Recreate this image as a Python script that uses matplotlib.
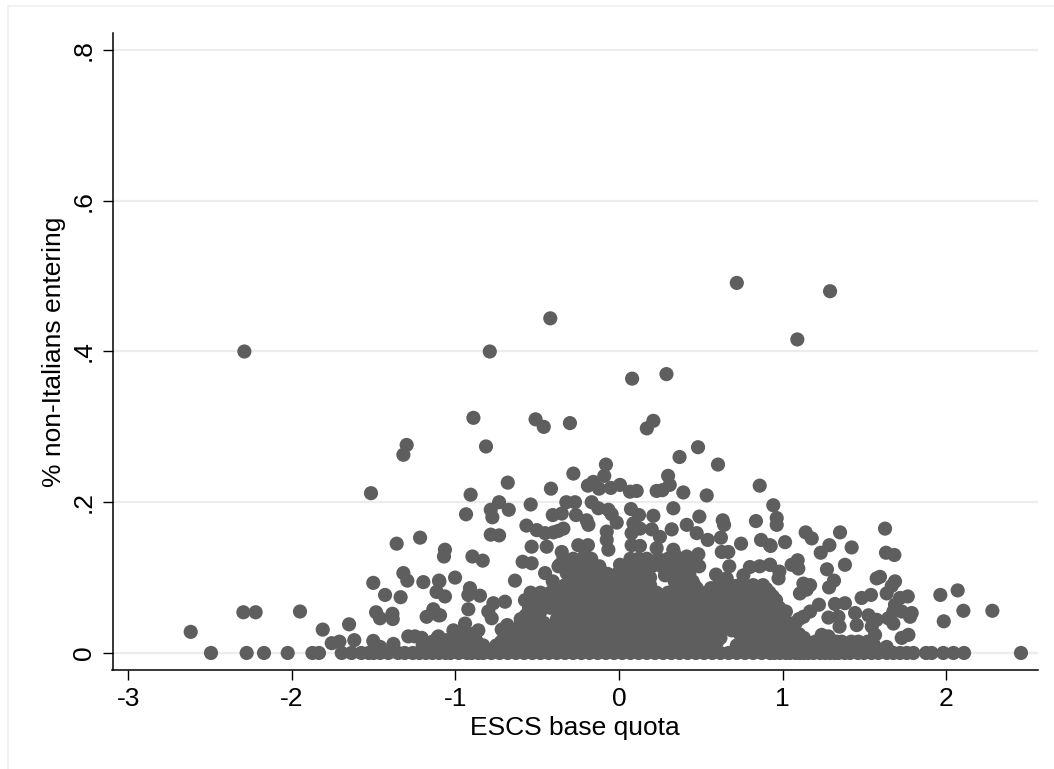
import numpy as np
import matplotlib
matplotlib.use('Agg')
import matplotlib.pyplot as plt
from matplotlib.lines import Line2D

plt.rcParams['font.family'] = ['Liberation Sans', 'DejaVu Sans']

# points sitting on zero
zero_x = [-2.494,-2.276,-2.17,-2.025,-1.874,-1.834,-1.695,-1.635,-1.575,-1.53,-1.5,-1.46,-1.41,-1.35,-1.31,-1.26,-1.22,-1.18,-1.14,-1.1,-1.06,
          -1.03,-.98,-.93,-.9,-.86,-.83,-.78,-.73,-.68,-.63,-.58,-.53,-.48,-.43,-.38,-.33,-.28,-.23,-.18,-.13,-.08,-.03,.02,.07,.12,
          .17,.22,.27,.32,.37,.42,.47,.52,.57,.62,.67,.72,.77,.82,.872,.923,.95,.984,1.02,1.045,1.08,1.106,1.13,1.157,1.19,1.229,1.26,1.29,1.32,1.341,1.38,1.412,
          1.46,1.497,1.544,1.585,1.637,1.677,1.718,1.759,1.799,1.877,1.911,1.982,2.044,2.109,2.457]

# scattered points above the dense part
scatter_x = [-2.29,.72,1.29,-.42,1.09,-.79,.08,.29,-.89,-.51,-.46,-.30,.21,.17,-1.298,-1.318,-.813,.37,.483,.605,
             -.907,-.68,-.935,-.733,-.784,-.774,-.674,-.54,-.416,-.279,-.08,-.09,-.19,-.157,-.122,-.05,.006,.067,.108,.23,
             .265,.30,.31,.393,.536,.86,.491,.332,.21,.073,.122,-.322,-.269,-.35,-.405,-.167,-.126,-.065,-.045,-.014,
             -.263,-.198,-.187,-.566,-.503,-.452,-.401,-.371,-.34,-.784,-.733,-1.064,-1.07,-.896,-.833,-.534,-.442,-.35,
             -.249,-.19,-.208,-.075,-.075,-.065,.088,.077,.128,.2,.25,.322,.077,.128,.23,.332,.414,.475,.542,.634,.642,.623,
             .485,.414,.342,.628,.668,.746,.837,.868,.923,.943,.964,.964,.674,.8,.86,.923,.76,.593,.658,.719,.475,.562,.383,
             .281,.424,.088,.006,.149,-.361,-.589,-.534,-.452,-.405,-.208,-.32,-.636,-1.002,-1.1,-1.115,-1.064,-.911,-.921,
             -.85,-.921,-.697,-.768,-.799,-.778,-.575,-.503,-.601,-.683,-.717,-.605,-.86,-.941,-1.012,-1.104,-1.135,-1.094,
             -.707,-2.618,-2.296,-2.221,-1.95,-1.811,-1.65,-1.756,-1.709,-1.618,-1.502,-1.46,-1.379,-1.516,-1.216,-1.359,
             -1.502,-1.318,-1.294,-1.196,-1.098,-1.43,-1.335,-1.485,-1.461,-1.385,-1.383,-1.176,-1.135,-1.104,-1.288,-1.247,
             -1.206,-1.11,-1.053,1.626,2.282,2.105,2.07,1.964,1.985,1.632,1.683,1.595,1.575,1.687,1.667,1.636,1.54,1.483,1.765,
             1.718,1.687,1.677,1.789,1.779,1.728,1.677,1.646,1.769,1.728,1.636,1.351,1.422,1.286,1.233,1.381,1.271,1.314,
             1.284,1.141,1.178,1.015,.927,1.092,1.055,1.096,.98,.975,.923,1.168,1.127,1.147,1.106,1.222,1.168,1.127,1.055,
             1.32,1.381,1.28,1.341,1.443,1.525,1.575,1.453,1.348,1.239,1.28,1.545,1.565,1.463,1.361,1.167,.943,.984,.892,.964,
             1.065,1.005,.902]
scatter_y = [.40,.491,.48,.444,.416,.40,.364,.37,.312,.31,.30,.305,.308,.298,.276,.263,.274,.26,.273,.25,
             .21,.226,.184,.2,.19,.18,.19,.197,.218,.238,.25,.235,.222,.227,.218,.219,.223,.214,.215,.215,
             .216,.235,.223,.213,.209,.222,.181,.192,.182,.191,.183,.2,.2,.185,.183,.2,.192,.19,.184,.173,
             .183,.176,.17,.169,.163,.159,.16,.162,.165,.157,.156,.137,.128,.128,.1225,.141,.141,.134,
             .143,.143,.13,.161,.15,.137,.172,.159,.165,.164,.154,.164,.143,.142,.139,.137,.17,.159,.15,.176,.17,.153,
             .131,.128,.13,.134,.134,.145,.175,.15,.143,.196,.179,.17,.115,.114,.115,.117,.103,.104,.099,.089,.086,.086,.066,
             .103,.106,.121,.117,.119,.117,.121,.119,.106,.095,.117,.106,.096,.1,.096,.081,.075,.086,.077,
             .076,.058,.068,.066,.055,.046,.07,.077,.045,.037,.031,.028,.03,.039,.03,.022,.053,.05,
             .017,.028,.054,.054,.055,.031,.038,.013,.015,.017,.016,.008,.012,.212,.153,.145,
             .093,.106,.096,.094,.095,.077,.074,.054,.046,.052,.045,.048,.058,.05,.022,.022,
             .02,.02,.017,.165,.056,.056,.083,.077,.042,.133,.13,.101,.099,.095,.089,.079,.077,.073,.075,
             .073,.064,.055,.053,.048,.055,.039,.046,.024,.02,.008,.16,.14,.143,.133,.117,.111,.096,
             .087,.16,.152,.147,.142,.123,.117,.112,.108,.099,.117,.09,.092,.084,.079,.064,.055,.048,.039,
             .065,.066,.047,.048,.053,.05,.044,.037,.035,.024,.022,.035,.024,.015,.015,.013,.048,.05,.061,.035,
             .022,.017,.022]

# dense part, x values read row by row
core_125 = [-.34,-.28,-.22,-.17,.07,.12,.17,.24,.3,.36,.41,.46]
core_115 = [-.37,-.3,-.24,-.18,-.12,.02,.08,.14,.2,.26,.32,.38,.44,.49]
core_105 = [-.3,-.25,-.19,-.13,-.07,-.01,.05,.11,.17,.33,.38,.43]
core_100 = [-.28,-.22,-.16,-.1,-.04,.02,.08,.14,.19,.36,.41]
core_095 = [-.3,-.22,-.15,-.08,-.02,.04,.11,.17,.34,.45]
core_090 = [-.33,-.26,-.19,-.12,-.05,.01,.07,.14,.19,.38,.46,.61,.68,.76,.82,.88]
core_085 = [-.36,-.28,-.21,-.14,-.07,0,.06,.13,.19,.36,.43,.62,.7,.78,.84,.9]
core_080 = [-.54,-.48,-.42,-.38,-.31,-.24,-.17,-.1,-.03,.04,.1,.17,.23,.3,.37,.44,.5,.57,.65,.73,.8,.86,.92]
core_075 = [-.47,-.4,-.33,-.26,-.19,-.12,-.05,.01,.08,.15,.22,.28,.34,.42,.5,.56,.63,.7,.77,.83,.88,.94]
core_070 = [-.56,-.5,-.44,-.35,-.28,-.21,-.14,-.07,-.01,.06,.13,.2,.26,.33,.4,.47,.53,.6,.66,.72,.79,.85,.91,.96]
core_065 = [-.52,-.46,-.37,-.3,-.23,-.16,-.09,-.02,.05,.12,.18,.25,.31,.4,.47,.54,.6,.67,.74,.82,.88,.95]
core_060 = [-.55,-.49,-.42,-.34,-.27,-.2,-.13,-.06,.01,.07,.14,.21,.28,.34,.41,.48,.55,.61,.68,.75,.81,.87,.93,.98]
core_055 = [-.54,-.48,-.36,-.3,-.24,-.18,-.11,-.04,.03,.09,.16,.23,.3,.36,.43,.5,.57,.62,.71,.78,.84,.9,.97,1.02]
core_050 = [-.57,-.52,-.34,-.27,-.21,-.14,-.07,0,.06,.13,.2,.26,.33,.4,.47,.53,.6,.66,.73,.8,.86,.93,1.0]
core_045 = [-.56,-.5,-.38,-.31,-.25,-.19,-.12,-.05,.02,.08,.15,.22,.29,.35,.42,.49,.56,.63,.69,.74,.8,.86,.92,.98,1.1]
core_040 = [-.6,-.53,-.46,-.38,-.29,-.22,-.15,-.08,-.01,.05,.12,.19,.26,.32,.39,.46,.53,.6,.66,.72,.78,.84,.9,.96,1.02,1.08]
core_035 = [-.54,-.47,-.4,-.33,-.26,-.19,-.12,-.05,.02,.09,.16,.23,.3,.37,.44,.51,.58,.65,.72,.78,.84,.9,.96,1.03]
core_030 = [-.62,-.57,-.5,-.43,-.36,-.29,-.22,-.15,-.08,-.01,.06,.13,.2,.27,.34,.41,.48,.55,.62,.69,.75,.81,.87,.93,.99,1.06]
core_025 = [-.97,-.9,-.67,-.6,-.53,-.46,-.39,-.32,-.25,-.18,-.11,-.04,.03,.1,.17,.24,.31,.38,.45,.52,.59,.74,.8,.86,.92,.98,1.04,1.1]
core_020 = [-1.0,-.94,-.88,-.7,-.63,-.56,-.49,-.42,-.35,-.28,-.21,-.14,-.07,0,.07,.14,.21,.28,.35,.42,.49,.56,.62,.77,.83,.89,.95,1.01,1.07,1.13]
core_015 = [-1.14,-1.07,-1.0,-.93,-.87,-.72,-.65,-.58,-.51,-.44,-.37,-.3,-.23,-.16,-.09,-.02,.05,.12,.19,.26,.33,.4,.47,.54,.6,.75,.82,.89,.96,1.03,1.09,1.2,1.27,1.33,1.42,1.52]
core_010 = [-1.2,-1.12,-1.04,-.96,-.89,-.83,-.75,-.68,-.61,-.54,-.47,-.4,-.33,-.26,-.19,-.12,-.05,.02,.09,.16,.23,.3,.37,.44,.51,.58,.72,.79,.86,.93,1.0,1.07,1.14,1.22,1.3,1.38,1.48,1.56]
core_levels = [.125,.115,.105,.1,.095,.09,.085,.08,.075,.07,.065,.06,.055,.05,.045,.04,.035,.03,.025,.02,.015,.01]
core_rows = [core_125,core_115,core_105,core_100,core_095,core_090,core_085,core_080,core_075,core_070,core_065,
             core_060,core_055,core_050,core_045,core_040,core_035,core_030,core_025,core_020,core_015,core_010]

x_ticks = [-3,-2,-1,0,1,2]
x_labels = ['-3','-2','-1','0','1','2']
y_ticks = [0,.2,.4,.6,.8]
y_labels = ['0','.2','.4','.6','.8']

W, H = 1054, 769
fig = plt.figure(figsize=(W/100, H/100), dpi=100, facecolor='white')
ax = fig.add_axes([112.5/W, 1-670/H, (1038-112.5)/W, (670-33)/H])

core_x = np.concatenate(core_rows)
core_y = np.concatenate([[lv]*len(r) for lv, r in zip(core_levels, core_rows)])
all_x = np.concatenate([zero_x, scatter_x, core_x])
all_y = np.concatenate([np.zeros(len(zero_x)), scatter_y, core_y])

ax.scatter(all_x, all_y, s=104, c='#5e5e5e', edgecolors='none', zorder=3, clip_on=False)

ax.set_xlim(-3.096, 2.561)
ax.set_ylim(-0.0226, 0.8226)
ax.set_xticks(x_ticks)
ax.set_xticklabels(x_labels)
ax.set_yticks(y_ticks)
ax.set_yticklabels(y_labels, rotation=90, va='center')
ax.grid(axis='y', color='#ececec', lw=1.6, zorder=0)
ax.set_axisbelow(True)
ax.spines['top'].set_visible(False)
ax.spines['right'].set_visible(False)
ax.spines['left'].set_linewidth(1.1)
ax.spines['bottom'].set_linewidth(1.1)
ax.tick_params(length=7.5, width=1.0, labelsize=19, pad=4.5)
ax.set_xlabel('ESCS base quota', fontsize=19, labelpad=3.5)
ax.set_ylabel('% non-Italians entering', fontsize=19, labelpad=4.5)

# faint outer frame
fig.add_artist(Line2D([8/W, 8/W], [0, 1-6/H], color='#f0f0f0', lw=1.2))
fig.add_artist(Line2D([8/W, 1], [1-6/H, 1-6/H], color='#f0f0f0', lw=1.2))

fig.savefig('out.png', dpi=100)
